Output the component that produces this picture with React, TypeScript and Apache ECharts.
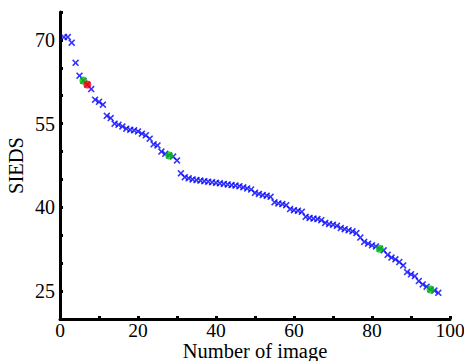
import React, { useEffect, useRef } from "react";
import * as echarts from "echarts";

// SIEDS value for image number 1..97
const siedsValues: number[] = [
  70.5, 70.5, 69.5, 65.9, 63.6, 62.7, 62.0, 61.2, 59.3, 58.9,
  58.4, 56.4, 56.0, 55.0, 54.8, 54.5, 54.1, 53.9, 53.8, 53.6,
  53.2, 52.9, 52.3, 51.3, 51.1, 50.0, 49.6, 49.3, 49.1, 48.4,
  46.1, 45.4, 45.2, 45.0, 44.9, 44.8, 44.7, 44.6, 44.5, 44.4,
  44.3, 44.2, 44.1, 44.0, 43.9, 43.8, 43.6, 43.4, 43.2, 42.6,
  42.4, 42.2, 42.1, 41.9, 40.9, 40.7, 40.6, 40.4, 39.7, 39.5,
  39.4, 39.2, 38.3, 38.1, 38.0, 37.9, 37.7, 37.2, 37.0, 36.9,
  36.7, 36.3, 36.1, 35.9, 35.7, 35.4, 34.6, 33.8, 33.5, 33.2,
  33.0, 32.6, 32.3, 31.5, 31.0, 30.7, 30.2, 29.6, 28.4, 28.0,
  27.7, 26.8, 26.2, 25.8, 25.3, 25.1, 24.7,
];
const greenImages: number[] = [6, 28, 82, 95];
const redImages: number[] = [7];
const yLabelsShown: number[] = [25, 40, 55, 70];

const CROSS =
  "path://M0,1.6L1.6,0L5,3.4L8.4,0L10,1.6L6.6,5L10,8.4L8.4,10L5,6.6L1.6,10L0,8.4L3.4,5Z";

export default function App() {
  const ref = useRef<HTMLDivElement>(null);
  useEffect(() => {
    if (!ref.current) return;
    const chart = echarts.init(ref.current, null, { renderer: "svg" });
    const pts = siedsValues.map((v, i) => [i + 1, v]);
    const pick = (nums: number[]) => nums.map((n) => [n, siedsValues[n - 1]]);
    const font = "Liberation Serif";
    chart.setOption({
      animation: false,
      backgroundColor: "#fff",
      grid: { left: 60, right: 14, top: 12, bottom: 42, outerBoundsMode: "none", containLabel: false },
      xAxis: {
        type: "value",
        min: 0,
        max: 100,
        interval: 10,
        name: "Number of image",
        nameLocation: "middle",
        nameGap: 24,
        nameMoveOverlap: false,
        nameTextStyle: { fontFamily: font, fontSize: 20.5, lineHeight: 16, color: "#000" },
        axisLine: { show: true, onZero: false, lineStyle: { color: "#000", width: 3 } },
        axisTick: { show: true, inside: true, length: 3, lineStyle: { color: "#000", width: 3 } },
        axisLabel: {
          interval: 1,
          fontFamily: font,
          fontSize: 19.5,
          lineHeight: 15,
          color: "#000",
          margin: 4,
          formatter: (v: number) => (v % 20 === 0 ? String(v) : ""),
        },
        splitLine: { show: false },
      },
      yAxis: {
        type: "value",
        min: 20,
        max: 75,
        interval: 5,
        name: "SIEDS",
        nameLocation: "middle",
        nameGap: 34,
        nameMoveOverlap: false,
        nameTextStyle: { fontFamily: font, fontSize: 20.5, color: "#000" },
        axisLine: { show: true, onZero: false, lineStyle: { color: "#000", width: 3 } },
        axisTick: { show: true, inside: true, length: 3, lineStyle: { color: "#000", width: 3 } },
        axisLabel: {
          fontFamily: font,
          fontSize: 20,
          color: "#000",
          margin: 5,
          formatter: (v: number) => (yLabelsShown.indexOf(v) >= 0 ? String(v) : ""),
        },
        splitLine: { show: false },
      },
      series: [
        {
          type: "scatter",
          data: pts,
          symbol: CROSS,
          symbolSize: 7,
          itemStyle: { color: "#0000ff" },
        },
        {
          type: "scatter",
          data: pick(greenImages),
          symbol: "circle",
          symbolSize: 8,
          itemStyle: { color: "#00c800" },
          z: 3,
        },
        {
          type: "scatter",
          data: pick(redImages),
          symbol: "circle",
          symbolSize: 8,
          itemStyle: { color: "#ff0000" },
          z: 3,
        },
      ],
    });
    return () => chart.dispose();
  }, []);
  return <div ref={ref} style={{ width: 464, height: 361, position: "absolute", left: 0, top: 0 }} />;
}
